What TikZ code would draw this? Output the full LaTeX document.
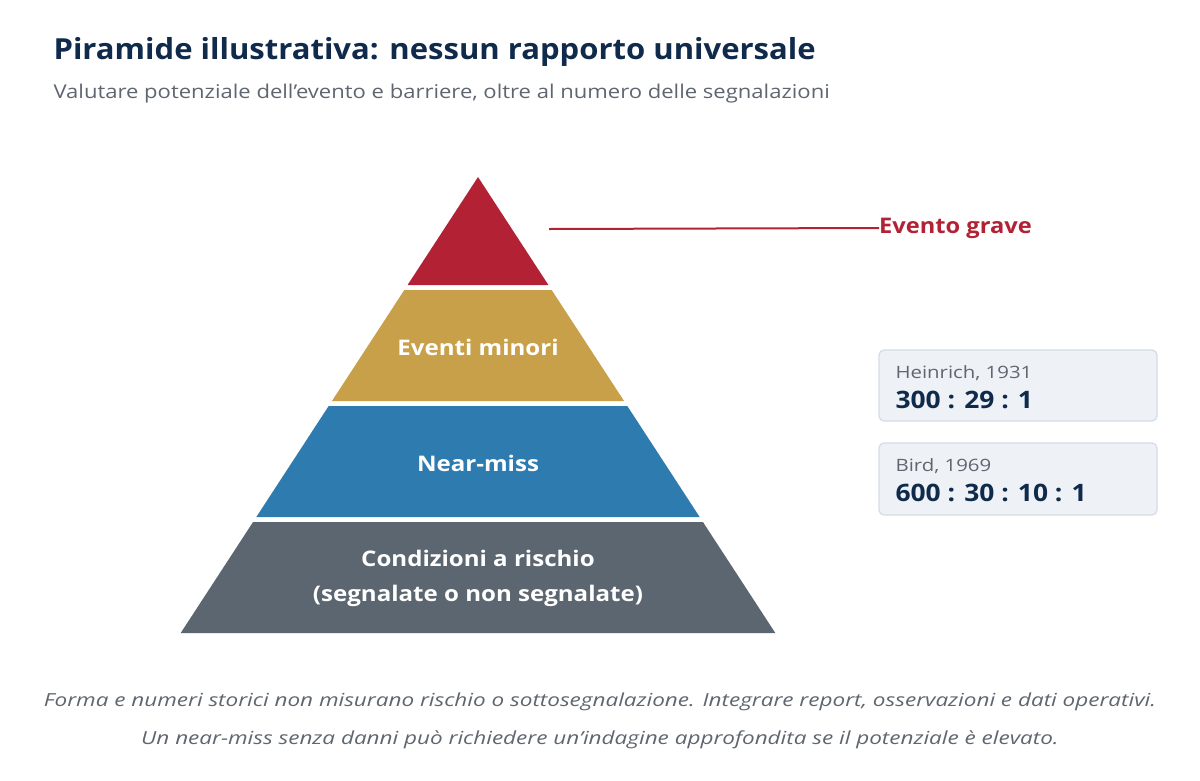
\documentclass[tikz,border=0pt]{standalone}
\usepackage{fontspec}
\setmainfont{Open Sans}
\definecolor{navy}{HTML}{0F2A4A}
\definecolor{sub}{HTML}{5F6670}
\definecolor{cred}{HTML}{B22234}
\definecolor{cgold}{HTML}{C8A04A}
\definecolor{cblue}{HTML}{2E7BB0}
\definecolor{cgray}{HTML}{5C6670}
\definecolor{boxf}{HTML}{EEF2F7}
\definecolor{boxd}{HTML}{D3DCE6}
\newcommand\fnt[2]{\fontsize{#1}{1.4\dimexpr#1pt\relax}\selectfont\addfontfeature{FakeStretch=#2}}
\begin{document}
\begin{tikzpicture}[x=1pt,y=-1pt,
 band/.style={white,font=\bfseries\fnt{21.5}{1.12},align=center},
 rbox/.style={draw=boxd,fill=boxf,rounded corners=5pt,line width=1.2pt},
 small/.style={anchor=west,text=sub,font=\fnt{17}{1.2}},
 ratio/.style={anchor=west,text=navy,font=\bfseries\fnt{24}{1.1}},
 foot/.style={text=sub,font=\itshape\fnt{18}{1.25}}]
\useasboundingbox[fill=white] (0,0) rectangle (1200,780);
\def\xl#1{478-0.652*(#1-177)}
\def\xr#1{478+0.652*(#1-177)}
\node[anchor=west,text=navy,font=\bfseries\fnt{29}{1.07}] (title) at (50,52) {Piramide illustrativa: nessun rapporto universale};
\node[anchor=west,text=sub,font=\fnt{19}{1.16}] (subt) at (50,94) {Valutare potenziale dell’evento e barriere, oltre al numero delle segnalazioni};
\fill[cred] (478,177) -- ({\xr{285}},285) -- ({\xl{285}},285) -- cycle;
\fill[cgold] ({\xl{290}},290) -- ({\xr{290}},290) -- ({\xr{401}},401) -- ({\xl{401}},401) -- cycle;
\fill[cblue] ({\xl{406}},406) -- ({\xr{406}},406) -- ({\xr{517}},517) -- ({\xl{517}},517) -- cycle;
\fill[cgray] ({\xl{522}},522) -- ({\xr{522}},522) -- ({\xr{633}},633) -- ({\xl{633}},633) -- cycle;
\node[band] (b1) at (478,347) {Eventi minori};
\node[band] (b2) at (478,463) {Near-miss};
\node[band] (b3) at (478,578) {Condizioni a rischio\\[5pt](segnalate o non segnalate)};
\coordinate (tip) at (549,229);
\node[anchor=west,text=cred,font=\bfseries\fnt{21.5}{1.1},inner sep=0pt] (ev) at (879,228) {Evento grave};
\draw[cred,line width=2pt] (tip) -- (ev.west);
\draw[rbox] (879,350) rectangle (1157,421);
\node[small] (h1) at (892,373) {Heinrich, 1931};
\node[ratio] (h2) at (892,400) {300 : 29 : 1};
\draw[rbox] (879,443) rectangle (1157,515);
\node[small] (g1) at (892,466) {Bird, 1969};
\node[ratio] (g2) at (892,493) {600 : 30 : 10 : 1};
\node[foot] (f1) at (600,702) {Forma e numeri storici non misurano rischio o sottosegnalazione. Integrare report, osservazioni e dati operativi.};
\node[foot] (f2) at (600,740) {Un near-miss senza danni può richiedere un’indagine approfondita se il potenziale è elevato.};
\end{tikzpicture}
\end{document}
